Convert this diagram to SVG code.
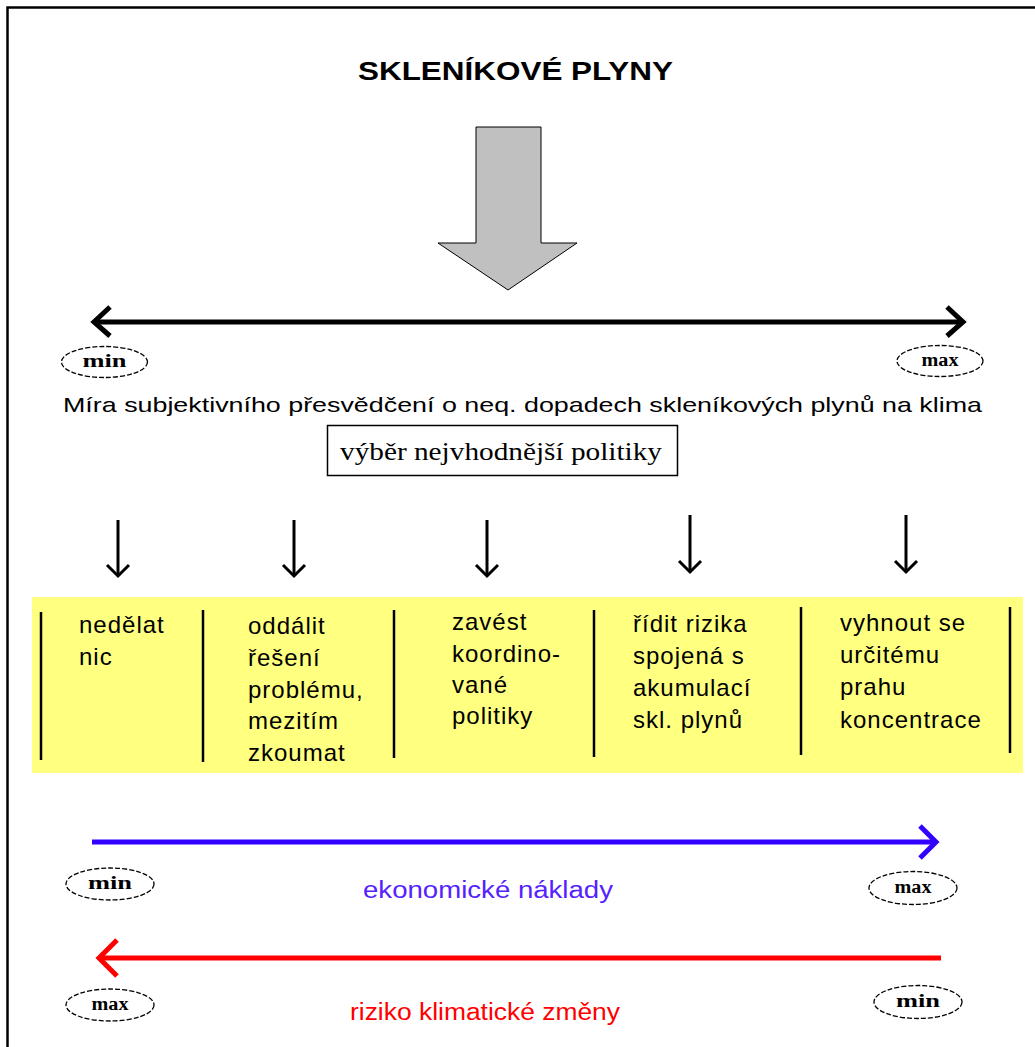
<svg xmlns="http://www.w3.org/2000/svg" width="1035" height="1047" viewBox="0 0 1035 1047">
<style>
.sans{font-family:"Liberation Sans",Arial,sans-serif}
.serif{font-family:"Liberation Serif","Times New Roman",serif}
.col{font-family:"Liberation Sans",Arial,sans-serif;font-size:24px;letter-spacing:1px;fill:#000}
.lbl{font-family:"Liberation Serif","Times New Roman",serif;font-size:18px;font-weight:bold;text-anchor:middle}
.ell{fill:#fff;stroke:#000;stroke-width:1.3;stroke-dasharray:5 2}
.sep{stroke:#000;stroke-width:2.5}
.down{fill:none;stroke:#000;stroke-width:3}
</style>
<rect width="1035" height="1047" fill="#fff"/>
<path d="M7.5,1047 V7.5 H1035" fill="none" stroke="#000" stroke-width="2.5"/>

<g id="title">
<text class="sans" x="358" y="80" font-size="26" font-weight="bold" textLength="315" lengthAdjust="spacingAndGlyphs">SKLENÍKOVÉ PLYNY</text>
</g>

<g id="big-arrow">
<polygon points="476,127 541,127 541,243 577,243 508,290 438,243 476,243" fill="#c0c0c0" stroke="#000" stroke-width="1"/>
</g>

<g id="connectors">
<g id="scale-black">
<line x1="95" y1="322" x2="962" y2="322" stroke="#000" stroke-width="5"/>
<polyline points="110,307 94,322 110,336" fill="none" stroke="#000" stroke-width="5"/>
<polyline points="947,307 963,322 947,336" fill="none" stroke="#000" stroke-width="5"/>
</g>
<g id="down-arrows">
<line class="down" x1="118" y1="520" x2="118" y2="576"/><polyline class="down" points="107,565 118,576 129,565"/>
<line class="down" x1="294" y1="520" x2="294" y2="576"/><polyline class="down" points="283,565 294,576 305,565"/>
<line class="down" x1="487" y1="520" x2="487" y2="576"/><polyline class="down" points="476,565 487,576 498,565"/>
<line class="down" x1="690" y1="515" x2="690" y2="572"/><polyline class="down" points="679,561 690,572 701,561"/>
<line class="down" x1="906" y1="515" x2="906" y2="572"/><polyline class="down" points="895,561 906,572 917,561"/>
</g>
<g id="scale-blue">
<line x1="92" y1="842" x2="935" y2="842" stroke="#3300ff" stroke-width="5"/>
<polyline points="920,826 936,842 920,858" fill="none" stroke="#3300ff" stroke-width="5"/>
</g>
<g id="scale-red">
<line x1="99" y1="958" x2="941" y2="958" stroke="#ff0000" stroke-width="5"/>
<polyline points="117,940 99,958 117,976" fill="none" stroke="#ff0000" stroke-width="5"/>
</g>
</g>

<g id="min-top"><ellipse class="ell" cx="104.5" cy="362" rx="43" ry="15.5"/><text class="lbl" x="104.5" y="367" textLength="44" lengthAdjust="spacingAndGlyphs">min</text></g>
<g id="max-top"><ellipse class="ell" cx="940" cy="361" rx="43" ry="15.5"/><text class="lbl" x="940" y="366" textLength="37" lengthAdjust="spacingAndGlyphs">max</text></g>

<g id="scale-label">
<text class="sans" x="63" y="412" font-size="21" textLength="919" lengthAdjust="spacingAndGlyphs">Míra subjektivního přesvědčení o neq. dopadech skleníkových plynů na klima</text>
</g>

<g id="policy-box">
<rect x="327.5" y="425.5" width="350" height="50" fill="#fff" stroke="#000" stroke-width="1.5"/>
<text class="serif" x="340" y="460" font-size="26" textLength="322" lengthAdjust="spacingAndGlyphs">výběr nejvhodnější politiky</text>
</g>

<g id="options">
<rect x="32" y="597" width="991" height="176" fill="#ffff80"/>
<line class="sep" x1="41" y1="612" x2="41" y2="760"/>
<line class="sep" x1="203" y1="610" x2="203" y2="762"/>
<line class="sep" x1="394" y1="610" x2="394" y2="758"/>
<line class="sep" x1="594" y1="610" x2="594" y2="757"/>
<line class="sep" x1="801" y1="607" x2="801" y2="755"/>
<line class="sep" x1="1010" y1="607" x2="1010" y2="753"/>
<g id="opt1"><text class="col" x="79" y="633">nedělat</text><text class="col" x="79" y="665">nic</text></g>
<g id="opt2"><text class="col" x="248" y="634">oddálit</text><text class="col" x="248" y="666">řešení</text><text class="col" x="248" y="698">problému,</text><text class="col" x="248" y="729">mezitím</text><text class="col" x="248" y="761">zkoumat</text></g>
<g id="opt3"><text class="col" x="452" y="630">zavést</text><text class="col" x="452" y="662">koordino-</text><text class="col" x="452" y="693">vané</text><text class="col" x="452" y="724">politiky</text></g>
<g id="opt4"><text class="col" x="633" y="632">řídit rizika</text><text class="col" x="633" y="664">spojená s</text><text class="col" x="633" y="696">akumulací</text><text class="col" x="633" y="728">skl. plynů</text></g>
<g id="opt5"><text class="col" x="840" y="631">vyhnout se</text><text class="col" x="840" y="663">určitému</text><text class="col" x="840" y="695">prahu</text><text class="col" x="840" y="728">koncentrace</text></g>
</g>

<g id="min-blue"><ellipse class="ell" cx="110" cy="884" rx="44" ry="16"/><text class="lbl" x="110" y="889" textLength="44" lengthAdjust="spacingAndGlyphs">min</text></g>
<g id="max-blue"><ellipse class="ell" cx="913" cy="888" rx="44" ry="16.5"/><text class="lbl" x="913" y="893" textLength="37" lengthAdjust="spacingAndGlyphs">max</text></g>
<g id="blue-label"><text class="sans" x="363" y="898" font-size="23" fill="#5522ff" textLength="250" lengthAdjust="spacingAndGlyphs">ekonomické náklady</text></g>

<g id="max-red"><ellipse class="ell" cx="110" cy="1005" rx="44" ry="16"/><text class="lbl" x="110" y="1010" textLength="37" lengthAdjust="spacingAndGlyphs">max</text></g>
<g id="min-red"><ellipse class="ell" cx="918" cy="1002" rx="44" ry="16.5"/><text class="lbl" x="918" y="1007" textLength="44" lengthAdjust="spacingAndGlyphs">min</text></g>
<g id="red-label"><text class="sans" x="350" y="1020" font-size="23" fill="#ff0000" textLength="270" lengthAdjust="spacingAndGlyphs">riziko klimatické změny</text></g>
</svg>
